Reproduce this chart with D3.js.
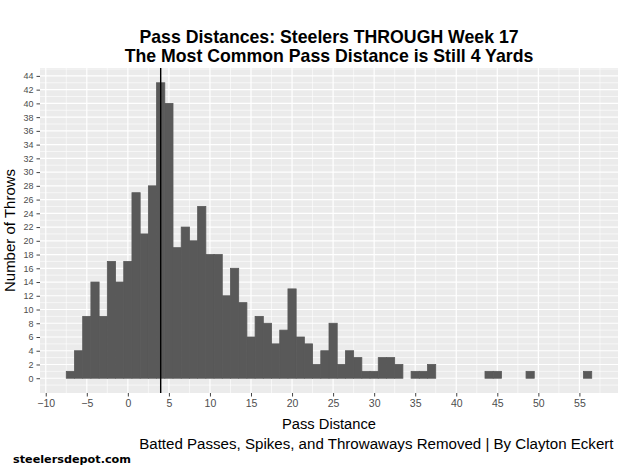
<!DOCTYPE html>
<html>
<head>
<meta charset="utf-8">
<script src="https://cdn.jsdelivr.net/npm/d3@7"></script>
<style>
  body { margin: 0; background: #fff; }
  svg { display: block; font-family: "Liberation Sans", Arial, sans-serif; }
</style>
</head>
<body>
<div id="chart"></div>
<script>
// pass distance (yards) and number of throws per 1-yard bin
var distances = [-7, -6, -5, -4, -3, -2, -1, 0, 1, 2, 3, 4, 5, 6, 7, 8, 9, 10, 11, 12, 13, 14, 15, 16, 17, 18, 19, 20,
                 21, 22, 23, 24, 25, 26, 27, 28, 29, 30, 31, 32, 33, 35, 36, 37, 44, 45, 49, 56];
var throws    = [1, 4, 9, 14, 9, 17, 14, 17, 27, 21, 28, 43, 40, 19, 22, 20, 25, 18, 18, 12, 16, 11, 6, 9, 8, 5, 7, 13,
                 6, 5, 2, 4, 8, 2, 4, 3, 1, 1, 3, 3, 2, 1, 1, 2, 1, 1, 1, 1];
var xTicks = d3.range(-10, 56, 5);
var yTicks = d3.range(0, 45, 2);
var modeDistance = 4;

var width = 624, height = 469;
var margin = {top: 68, right: 6, bottom: 76, left: 40};

var svg = d3.select("#chart").append("svg")
    .attr("width", width)
    .attr("height", height);

var bins = distances.map(function (d, i) { return {x: d, n: throws[i]}; });

// ggplot style 5% expansion
var xlo = d3.min(distances) - 0.5, xhi = d3.max(distances) + 0.5;
var xpad = (xhi - xlo) * 0.05;
var ymax = d3.max(throws);

var x = d3.scaleLinear()
    .domain([xlo - xpad, xhi + xpad])
    .range([margin.left, width - margin.right]);
var y = d3.scaleLinear()
    .domain([-ymax * 0.05, ymax * 1.05])
    .range([height - margin.bottom, margin.top]);

var panel = svg.append("g");
panel.append("rect")
    .attr("x", x.range()[0])
    .attr("y", y.range()[1])
    .attr("width", x.range()[1] - x.range()[0])
    .attr("height", y.range()[0] - y.range()[1])
    .attr("fill", "#EBEBEB");

// minor grid
var xMinor = xTicks.map(function (d) { return d + 2.5; }).concat([-12.5]);
xMinor = xMinor.filter(function (d) { return d > x.domain()[0] && d < x.domain()[1]; });
var yMinor = yTicks.map(function (d) { return d + 1; }).concat([-1]);
yMinor = yMinor.filter(function (d) { return d > y.domain()[0] && d < y.domain()[1]; });

panel.selectAll(".xminor").data(xMinor).enter().append("line")
    .attr("x1", function (d) { return x(d); })
    .attr("x2", function (d) { return x(d); })
    .attr("y1", y.range()[0]).attr("y2", y.range()[1])
    .attr("stroke", "#fff").attr("stroke-width", 0.6);
panel.selectAll(".yminor").data(yMinor).enter().append("line")
    .attr("y1", function (d) { return y(d); })
    .attr("y2", function (d) { return y(d); })
    .attr("x1", x.range()[0]).attr("x2", x.range()[1])
    .attr("stroke", "#fff").attr("stroke-width", 0.6);

// major grid
panel.selectAll(".xmajor").data(xTicks).enter().append("line")
    .attr("x1", function (d) { return x(d); })
    .attr("x2", function (d) { return x(d); })
    .attr("y1", y.range()[0]).attr("y2", y.range()[1])
    .attr("stroke", "#fff").attr("stroke-width", 1.2);
panel.selectAll(".ymajor").data(yTicks).enter().append("line")
    .attr("y1", function (d) { return y(d); })
    .attr("y2", function (d) { return y(d); })
    .attr("x1", x.range()[0]).attr("x2", x.range()[1])
    .attr("stroke", "#fff").attr("stroke-width", 1.2);

// histogram bars
svg.append("g").selectAll("rect")
    .data(bins)
    .enter()
    .append("rect")
    .attr("x", function (d) { return x(d.x - 0.5); })
    .attr("y", function (d) { return y(d.n); })
    .attr("width", function (d) { return x(d.x + 0.5) - x(d.x - 0.5); })
    .attr("height", function (d) { return y(0) - y(d.n); })
    .attr("fill", "#595959")
    .attr("stroke", "#595959")
    .attr("stroke-width", 0.8);

// mode line
svg.append("line")
    .attr("x1", x(modeDistance)).attr("x2", x(modeDistance))
    .attr("y1", y.range()[0]).attr("y2", y.range()[1])
    .attr("stroke", "#000")
    .attr("stroke-width", 1.4);

// axes
var xAxis = svg.append("g")
    .attr("transform", "translate(0," + y.range()[0] + ")")
    .call(d3.axisBottom(x).tickValues(xTicks).tickSize(3.5).tickPadding(3));
var yAxis = svg.append("g")
    .attr("transform", "translate(" + x.range()[0] + ",0)")
    .call(d3.axisLeft(y).tickValues(yTicks).tickSize(3.5).tickPadding(3));
[xAxis, yAxis].forEach(function (a) {
  a.select(".domain").remove();
  a.selectAll(".tick line").attr("stroke", "#444").attr("stroke-width", 1);
  a.selectAll(".tick text").attr("fill", "#4D4D4D").attr("font-family", "Liberation Sans, Arial, sans-serif");
});
xAxis.selectAll(".tick text").attr("font-size", 10.5);
yAxis.selectAll(".tick text").attr("font-size", 9);

var cx = (x.range()[0] + x.range()[1]) / 2;
var cy = (y.range()[0] + y.range()[1]) / 2;

// titles
svg.append("text")
    .attr("x", cx).attr("y", 43)
    .attr("text-anchor", "middle")
    .attr("font-size", 17.7).attr("font-weight", "bold")
    .text("Pass Distances: Steelers THROUGH Week 17");
svg.append("text")
    .attr("x", cx).attr("y", 62)
    .attr("text-anchor", "middle")
    .attr("font-size", 17.7).attr("font-weight", "bold")
    .text("The Most Common Pass Distance is Still 4 Yards");

svg.append("text")
    .attr("x", cx).attr("y", 429)
    .attr("text-anchor", "middle")
    .attr("font-size", 14.7)
    .text("Pass Distance");

svg.append("text")
    .attr("transform", "translate(15," + cy + ") rotate(-90)")
    .attr("text-anchor", "middle")
    .attr("font-size", 15)
    .text("Number of Throws");

svg.append("text")
    .attr("x", 613.5).attr("y", 449)
    .attr("text-anchor", "end")
    .attr("font-size", 15.1)
    .text("Batted Passes, Spikes, and Throwaways Removed | By Clayton Eckert");

svg.append("text")
    .attr("x", 13).attr("y", 463)
    .attr("font-family", "DejaVu Sans, sans-serif")
    .attr("font-size", 10.5).attr("font-weight", "bold")
    .attr("textLength", 118)
    .attr("lengthAdjust", "spacingAndGlyphs")
    .text("steelersdepot.com");
</script>
</body>
</html>
